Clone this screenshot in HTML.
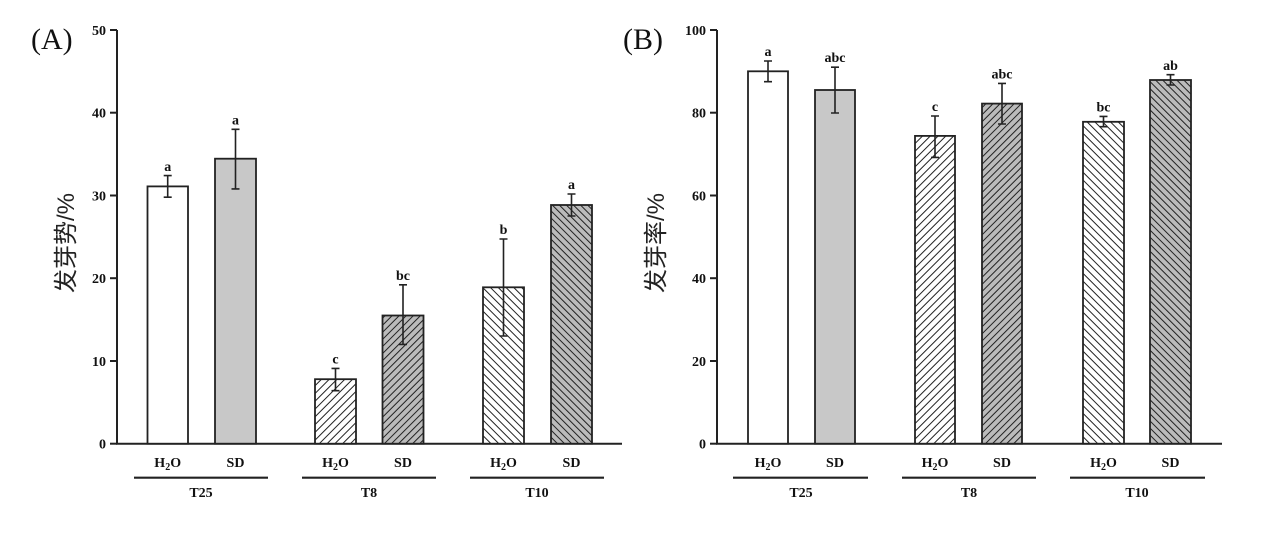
<!DOCTYPE html>
<html><head><meta charset="utf-8"><style>
html,body{margin:0;padding:0;background:#fff;}
svg{display:block;}
.t{font-family:"Liberation Serif",serif;font-weight:bold;font-size:14px;fill:#111;}
.p{font-family:"Liberation Serif",serif;font-size:30px;fill:#111;}
.y{font-family:"Liberation Sans","Noto Sans CJK SC",sans-serif;font-size:24px;fill:#222;}
</style></head><body>
<svg width="1268" height="533" viewBox="0 0 1268 533" xmlns="http://www.w3.org/2000/svg">
<defs>
<pattern id="fw" patternUnits="userSpaceOnUse" width="5.5" height="5.5" patternTransform="rotate(45)">
<rect width="6" height="6" fill="#fff"/><line x1="0" y1="0" x2="0" y2="6" stroke="#222" stroke-width="2"/></pattern>
<pattern id="fg" patternUnits="userSpaceOnUse" width="5" height="5" patternTransform="rotate(45)">
<rect width="5" height="5" fill="#bbb"/><line x1="0" y1="0" x2="0" y2="5" stroke="#222" stroke-width="2"/></pattern>
<pattern id="bw" patternUnits="userSpaceOnUse" width="5.5" height="5.5" patternTransform="rotate(-45)">
<rect width="6" height="6" fill="#fff"/><line x1="0" y1="0" x2="0" y2="6" stroke="#222" stroke-width="2"/></pattern>
<pattern id="bg" patternUnits="userSpaceOnUse" width="5" height="5" patternTransform="rotate(-45)">
<rect width="5" height="5" fill="#bbb"/><line x1="0" y1="0" x2="0" y2="5" stroke="#222" stroke-width="2"/></pattern>
</defs>

<!-- Panel A -->
<g>
<text class="p" x="31" y="49">(A)</text>
<text class="y" transform="translate(74,243) rotate(-90)" text-anchor="middle">发芽势/%</text>
<line x1="117" y1="30" x2="117" y2="444" stroke="#222" stroke-width="2"/>
<line x1="116" y1="443.7" x2="622" y2="443.7" stroke="#222" stroke-width="2"/>
<g stroke="#222" stroke-width="2">
<line x1="110" y1="30" x2="117" y2="30"/><line x1="110" y1="112.7" x2="117" y2="112.7"/>
<line x1="110" y1="195.5" x2="117" y2="195.5"/><line x1="110" y1="278.2" x2="117" y2="278.2"/>
<line x1="110" y1="361" x2="117" y2="361"/><line x1="110" y1="443.7" x2="117" y2="443.7"/>
</g>
<g class="t" text-anchor="end">
<text x="106" y="35">50</text><text x="106" y="117.7">40</text><text x="106" y="200.5">30</text>
<text x="106" y="283.2">20</text><text x="106" y="366">10</text><text x="106" y="448.7">0</text>
</g>
<g stroke="#222" stroke-width="1.8">
<rect x="147.5" y="186.4" width="40.5" height="257.3" fill="#fff"/>
<rect x="215" y="158.7" width="41" height="285" fill="#c8c8c8"/>
<rect x="315" y="379.2" width="41" height="64.5" fill="url(#fw)"/>
<rect x="382.5" y="315.5" width="41" height="128.2" fill="url(#fg)"/>
<rect x="483" y="287.3" width="41" height="156.4" fill="url(#bw)"/>
<rect x="551" y="205" width="41" height="238.7" fill="url(#bg)"/>
</g>
<g stroke="#222" stroke-width="1.6">
<path d="M167.7 175.6V197.2M163.7 175.6h8M163.7 197.2h8"/>
<path d="M235.5 129.3V188.9M231.5 129.3h8M231.5 188.9h8"/>
<path d="M335.5 368.4V390.7M331.5 368.4h8M331.5 390.7h8"/>
<path d="M403 284.8V344.4M399 284.8h8M399 344.4h8"/>
<path d="M503.5 239V336M499.5 239h8M499.5 336h8"/>
<path d="M571.5 194V216M567.5 194h8M567.5 216h8"/>
</g>
<g class="t" text-anchor="middle">
<text x="167.7" y="171">a</text><text x="235.5" y="124.5">a</text><text x="335.5" y="363.5">c</text>
<text x="403" y="280">bc</text><text x="503.5" y="234">b</text><text x="571.5" y="189">a</text>
</g>
<g class="t" text-anchor="middle" font-size="16">
<text x="167.7" y="467">H<tspan font-size="10" dy="3">2</tspan><tspan dy="-3">O</tspan></text><text x="235.5" y="467">SD</text>
<text x="335.5" y="467">H<tspan font-size="10" dy="3">2</tspan><tspan dy="-3">O</tspan></text><text x="403" y="467">SD</text>
<text x="503.5" y="467">H<tspan font-size="10" dy="3">2</tspan><tspan dy="-3">O</tspan></text><text x="571.5" y="467">SD</text>
<text x="201" y="497">T25</text><text x="369" y="497">T8</text><text x="537" y="497">T10</text>
</g>
<g stroke="#222" stroke-width="2.2">
<line x1="134" y1="477.7" x2="268" y2="477.7"/><line x1="302" y1="477.7" x2="436" y2="477.7"/><line x1="470" y1="477.7" x2="604" y2="477.7"/>
</g>
</g>

<!-- Panel B -->
<g>
<text class="p" x="623" y="49">(B)</text>
<text class="y" transform="translate(664,243) rotate(-90)" text-anchor="middle">发芽率/%</text>
<line x1="717" y1="30" x2="717" y2="444" stroke="#222" stroke-width="2"/>
<line x1="716" y1="443.7" x2="1222" y2="443.7" stroke="#222" stroke-width="2"/>
<g stroke="#222" stroke-width="2">
<line x1="710" y1="30" x2="717" y2="30"/><line x1="710" y1="112.7" x2="717" y2="112.7"/>
<line x1="710" y1="195.5" x2="717" y2="195.5"/><line x1="710" y1="278.2" x2="717" y2="278.2"/>
<line x1="710" y1="361" x2="717" y2="361"/><line x1="710" y1="443.7" x2="717" y2="443.7"/>
</g>
<g class="t" text-anchor="end">
<text x="706" y="35">100</text><text x="706" y="117.7">80</text><text x="706" y="200.5">60</text>
<text x="706" y="283.2">40</text><text x="706" y="366">20</text><text x="706" y="448.7">0</text>
</g>
<g stroke="#222" stroke-width="1.8">
<rect x="748" y="71.3" width="40" height="372.4" fill="#fff"/>
<rect x="815" y="90" width="40" height="353.7" fill="#c8c8c8"/>
<rect x="915" y="135.9" width="40" height="307.8" fill="url(#fw)"/>
<rect x="982" y="103.6" width="40" height="340.1" fill="url(#fg)"/>
<rect x="1083" y="121.8" width="41" height="321.9" fill="url(#bw)"/>
<rect x="1150" y="80" width="41" height="363.7" fill="url(#bg)"/>
</g>
<g stroke="#222" stroke-width="1.6">
<path d="M768 61V81.7M764 61h8M764 81.7h8"/>
<path d="M835 67.2V113M831 67.2h8M831 113h8"/>
<path d="M935 116V157.4M931 116h8M931 157.4h8"/>
<path d="M1002 83.4V124M998 83.4h8M998 124h8"/>
<path d="M1103.5 116.4V126.7M1099.5 116.4h8M1099.5 126.7h8"/>
<path d="M1170.5 74.7V85M1166.5 74.7h8M1166.5 85h8"/>
</g>
<g class="t" text-anchor="middle">
<text x="768" y="56">a</text><text x="835" y="62">abc</text><text x="935" y="111">c</text>
<text x="1002" y="78.5">abc</text><text x="1103.5" y="111.5">bc</text><text x="1170.5" y="70">ab</text>
</g>
<g class="t" text-anchor="middle" font-size="16">
<text x="768" y="467">H<tspan font-size="10" dy="3">2</tspan><tspan dy="-3">O</tspan></text><text x="835" y="467">SD</text>
<text x="935" y="467">H<tspan font-size="10" dy="3">2</tspan><tspan dy="-3">O</tspan></text><text x="1002" y="467">SD</text>
<text x="1103.5" y="467">H<tspan font-size="10" dy="3">2</tspan><tspan dy="-3">O</tspan></text><text x="1170.5" y="467">SD</text>
<text x="801" y="497">T25</text><text x="969" y="497">T8</text><text x="1137" y="497">T10</text>
</g>
<g stroke="#222" stroke-width="2.2">
<line x1="733" y1="477.7" x2="868" y2="477.7"/><line x1="902" y1="477.7" x2="1036" y2="477.7"/><line x1="1070" y1="477.7" x2="1205" y2="477.7"/>
</g>
</g>
</svg>
</body></html>
